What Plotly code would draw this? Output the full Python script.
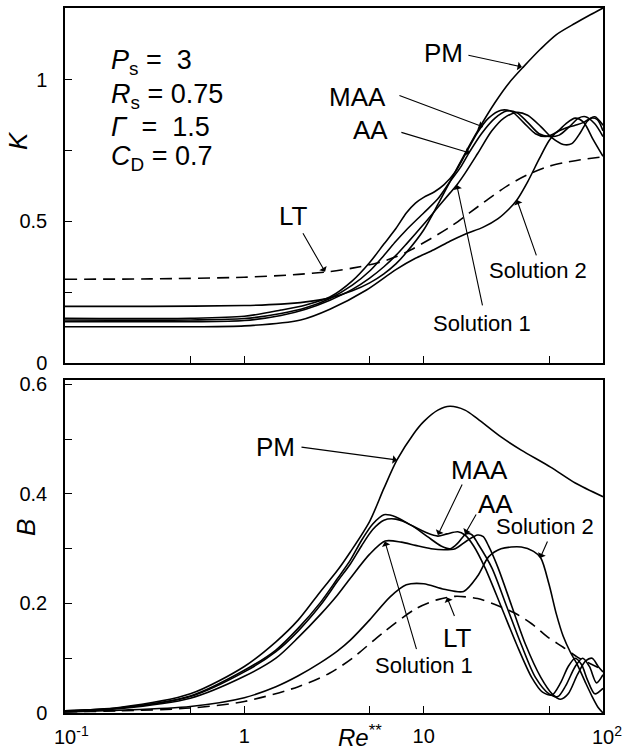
import math
import plotly.graph_objects as go

# ---------------- data ----------------
# top panel: K versus Re**
pm_k_re = [0.1, 0.3, 1, 1.6, 2.2, 3, 4, 5, 6, 7, 8, 10, 12, 14, 17, 20, 25, 30, 36, 45, 55, 70, 85, 100]
pm_k = [0.200, 0.200, 0.203, 0.208, 0.216, 0.230, 0.255, 0.283, 0.315, 0.350, 0.39, 0.47, 0.56, 0.64, 0.74,
        0.82, 0.92, 0.99, 1.046, 1.11, 1.16, 1.20, 1.23, 1.254]

maa_k_re = [0.1, 0.5, 1, 1.6, 2.2, 3, 4, 5, 6, 7, 8, 9, 10, 11.5, 13, 15, 17, 20, 23, 27, 31, 36, 42, 48, 55,
            62, 70, 78, 88, 100]
maa_k = [0.158, 0.158, 0.165, 0.187, 0.205, 0.233, 0.29, 0.355, 0.42, 0.475, 0.53, 0.565, 0.585, 0.605, 0.63,
         0.675, 0.735, 0.815, 0.865, 0.893, 0.888, 0.85, 0.81, 0.80, 0.815, 0.845, 0.865, 0.85, 0.79, 0.73]

aa_k_re = [0.1, 0.5, 1, 1.6, 2.2, 3, 4, 5, 6, 7, 8, 10, 12, 14, 16, 18, 21, 25, 29, 33, 38, 44, 50, 57, 65,
           73, 80, 90, 100]
aa_k = [0.152, 0.152, 0.157, 0.175, 0.195, 0.228, 0.275, 0.325, 0.38, 0.43, 0.47, 0.53, 0.58, 0.64, 0.69,
        0.745, 0.81, 0.865, 0.89, 0.885, 0.85, 0.81, 0.80, 0.805, 0.835, 0.865, 0.87, 0.845, 0.80]

sol1_k_re = [0.1, 0.5, 1, 1.6, 2.2, 3, 4, 5, 6, 7, 8, 10, 12, 14, 15.3, 17, 20, 24, 28, 33, 38, 45, 52, 60,
             67, 75, 82, 90, 100]
sol1_k = [0.146, 0.146, 0.150, 0.168, 0.19, 0.222, 0.26, 0.30, 0.34, 0.38, 0.42, 0.49, 0.55, 0.60, 0.629,
          0.67, 0.74, 0.82, 0.865, 0.885, 0.875, 0.835, 0.795, 0.772, 0.775, 0.815, 0.855, 0.87, 0.84]

sol2_k_re = [0.1, 0.5, 1, 2.06, 3, 4.8, 7, 9, 11.4, 14, 17, 21.5, 26, 30, 33.1, 38, 44, 50, 55, 62, 70, 78,
             86, 93, 100]
sol2_k = [0.128, 0.128, 0.131, 0.152, 0.19, 0.258, 0.33, 0.37, 0.40, 0.43, 0.455, 0.48, 0.51, 0.545, 0.576,
          0.64, 0.72, 0.785, 0.815, 0.83, 0.84, 0.85, 0.865, 0.86, 0.82]

lt_k_re = [0.1, 0.3, 1, 2, 3, 4, 5.5, 7, 8.5, 11, 14, 18, 23, 30, 38, 50, 60, 75, 100]
lt_k = [0.296, 0.297, 0.303, 0.313, 0.323, 0.335, 0.353, 0.375, 0.40, 0.44, 0.48, 0.53, 0.58, 0.63, 0.665,
        0.695, 0.707, 0.718, 0.728]

# bottom panel: B versus Re**
pm_b_re = [0.1, 0.2, 0.5, 1, 1.5, 2, 2.66, 3.3, 3.9, 5, 6, 7.1, 8.8, 10, 12, 14, 17, 20, 27, 35, 51, 70, 100]
pm_b = [0.004, 0.01, 0.035, 0.085, 0.13, 0.17, 0.222, 0.26, 0.294, 0.35, 0.41, 0.462, 0.51, 0.532, 0.553,
        0.56, 0.553, 0.537, 0.504, 0.48, 0.449, 0.42, 0.395]

maa_b_re = [0.1, 0.2, 0.5, 1, 1.5, 2, 2.66, 3.3, 3.9, 4.5, 5.2, 6, 7, 8.5, 10.4, 12, 13.5, 15.5, 17, 19, 22,
            27, 33, 40, 46, 52, 58, 64, 70, 76, 82, 90, 100]
maa_b = [0.004, 0.009, 0.031, 0.078, 0.115, 0.155, 0.202, 0.245, 0.279, 0.315, 0.345, 0.362, 0.358, 0.343,
         0.329, 0.323, 0.327, 0.331, 0.325, 0.305, 0.265, 0.195, 0.125, 0.065, 0.038, 0.033, 0.055, 0.085,
         0.10, 0.088, 0.06, 0.035, 0.045]

aa_b_re = [0.1, 0.2, 0.5, 1, 1.5, 2, 2.66, 3.3, 3.9, 4.5, 5.2, 6, 7, 8.5, 10.5, 12.5, 14.1, 15.5, 17.2, 18.5,
           20, 24, 29, 35, 42, 50, 56, 62, 70, 77, 84, 92, 100]
aa_b = [0.004, 0.009, 0.030, 0.075, 0.112, 0.15, 0.197, 0.24, 0.272, 0.305, 0.335, 0.352, 0.354, 0.343, 0.322,
        0.305, 0.300, 0.31, 0.327, 0.326, 0.31, 0.265, 0.195, 0.125, 0.065, 0.035, 0.03, 0.05, 0.085, 0.10,
        0.085, 0.055, 0.07]

sol1_b_re = [0.1, 0.2, 0.5, 1, 1.5, 2, 2.66, 3.3, 3.9, 5, 6.1, 7.5, 9, 11, 13, 15, 17.5, 20, 21.5, 23, 26, 31,
             37, 45, 52, 58, 64, 72, 80, 87, 94, 100]
sol1_b = [0.003, 0.008, 0.027, 0.067, 0.10, 0.138, 0.18, 0.215, 0.246, 0.29, 0.314, 0.312, 0.306, 0.30, 0.298,
          0.30, 0.315, 0.325, 0.322, 0.305, 0.265, 0.195, 0.125, 0.065, 0.035, 0.025, 0.035, 0.07, 0.095, 0.10,
          0.085, 0.075]

sol2_b_re = [0.1, 0.2, 0.5, 1, 1.5, 2, 2.66, 3.3, 3.9, 5, 6.5, 8, 10, 13, 16.7, 20, 23, 27, 35, 41, 45, 50, 55,
             60, 66, 72, 80, 87, 94, 100]
sol2_b = [0.002, 0.005, 0.012, 0.028, 0.048, 0.068, 0.092, 0.113, 0.133, 0.17, 0.212, 0.234, 0.236, 0.226,
          0.222, 0.25, 0.285, 0.30, 0.303, 0.295, 0.283, 0.235, 0.18, 0.14, 0.11, 0.088, 0.055, 0.03, 0.01, 0.0]

lt_b_re = [0.1, 0.2, 0.5, 1, 2, 3, 4, 6, 9, 12, 15, 20, 25, 32, 40, 49, 60, 72, 85, 100]
lt_b = [0.002, 0.004, 0.009, 0.021, 0.048, 0.073, 0.10, 0.148, 0.19, 0.207, 0.213, 0.209, 0.198, 0.183, 0.163,
        0.139, 0.12, 0.102, 0.09, 0.079]

x_tickvals = [0.1, 0.5, 1, 5, 10, 50, 100]
x_ticktext = ["", "", "1", "", "10", "", ""]          # 10^-1 and 10^2 are placed as annotations below
x_edge_labels = ["10<sup>-1</sup>", "10<sup>2</sup>"]
k_tickvals = [0, 0.25, 0.5, 0.75, 1.0]
k_ticktext = ["0", "", "0.5", "", "1"]
b_tickvals = [0, 0.1, 0.2, 0.3, 0.4, 0.5, 0.6]
b_ticktext = ["0", "", "0.2", "", "0.4", "", "0.6"]

# ---------------- figure ----------------
FONT = "Liberation Sans"
W, H = 629, 756
ML, MR, MT, MB = 65, 26, 8, 43

fig = go.Figure()

solid = dict(color="black", width=1.6, shape="spline", smoothing=0.8)
dashed = dict(color="black", width=1.6, shape="spline", smoothing=0.8, dash="12px,7px")

top = [(pm_k_re, pm_k, "PM"), (maa_k_re, maa_k, "MAA"), (aa_k_re, aa_k, "AA"),
       (sol1_k_re, sol1_k, "Solution 1"), (sol2_k_re, sol2_k, "Solution 2")]
for xs, ys, nm in top:
    fig.add_trace(go.Scatter(x=xs, y=ys, mode="lines", line=solid, name=nm, xaxis="x", yaxis="y"))
fig.add_trace(go.Scatter(x=lt_k_re, y=lt_k, mode="lines", line=dashed, name="LT", xaxis="x", yaxis="y"))

bot = [(pm_b_re, pm_b, "PM"), (maa_b_re, maa_b, "MAA"), (aa_b_re, aa_b, "AA"),
       (sol1_b_re, sol1_b, "Solution 1"), (sol2_b_re, sol2_b, "Solution 2")]
for xs, ys, nm in bot:
    fig.add_trace(go.Scatter(x=xs, y=ys, mode="lines", line=solid, name=nm, xaxis="x2", yaxis="y2"))
fig.add_trace(go.Scatter(x=lt_b_re, y=lt_b, mode="lines", line=dashed, name="LT", xaxis="x2", yaxis="y2"))

plot_h = H - MT - MB
top_dom = [(713 - 363) / plot_h, 1.0]
bot_dom = [0.0, (713 - 380) / plot_h]

axis_common = dict(showline=True, linecolor="black", linewidth=1.5, mirror=True, ticks="inside",
                   ticklen=7, tickwidth=1.2, tickcolor="black", showgrid=False, zeroline=False,
                   automargin=False, tickfont=dict(family=FONT, size=20, color="black"))

fig.update_layout(
    template="none",
    width=W, height=H, margin=dict(l=ML, r=MR, t=MT, b=MB),
    paper_bgcolor="white", plot_bgcolor="white", showlegend=False,
    font=dict(family=FONT, color="black"),
    xaxis=dict(type="log", range=[-1, 2], anchor="y", tickvals=x_tickvals, ticktext=x_ticktext,
               showticklabels=False, **axis_common),
    yaxis=dict(domain=top_dom, range=[0, 1.254], anchor="x", tickvals=k_tickvals, ticktext=k_ticktext,
               ticklabelstandoff=12, **axis_common),
    xaxis2=dict(type="log", range=[-1, 2], anchor="y2", tickvals=x_tickvals, ticktext=x_ticktext,
                ticklabelstandoff=4, **axis_common),
    yaxis2=dict(domain=bot_dom, range=[0, 0.608], anchor="x2", tickvals=b_tickvals, ticktext=b_ticktext,
                ticklabelstandoff=12, **axis_common),
)

ann = []


def px_paper(px, py):
    return (px - ML) / (W - ML - MR), (H - MB - py) / plot_h


def text_at(px, py, txt, size, xanchor="center", angle=0):
    xp, yp = px_paper(px, py)
    ann.append(dict(x=xp, y=yp, xref="paper", yref="paper", text=txt, showarrow=False,
                    xanchor=xanchor, yanchor="middle", textangle=angle, borderpad=0,
                    font=dict(family=FONT, size=size, color="black")))


def arrow(axis, re, val, dx, dy):
    xr, yr = ("x", "y") if axis == 1 else ("x2", "y2")
    ann.append(dict(x=math.log10(re), y=val, xref=xr, yref=yr, text="", showarrow=True,
                    ax=dx, ay=dy, axref="pixel", ayref="pixel", arrowhead=1, arrowsize=1.3,
                    arrowwidth=1.1, arrowcolor="black"))


# x edge tick labels (kept inside the page)
text_at(53, 735, x_edge_labels[0], 20, "left")
text_at(591, 735, x_edge_labels[1], 20, "left")

# parameter block
text_at(110, 62, "<i>P</i><sub>s</sub> =  3", 27, "left")
text_at(110, 96, "<i>R</i><sub>s</sub> = 0.75", 27, "left")
text_at(110, 127, "<i>Γ</i>  =  1.5", 27, "left")
text_at(110, 158, "<i>C</i><sub>D</sub> = 0.7", 27, "left")

# axis titles
text_at(18, 141, "<i>K</i>", 26, angle=-90)
text_at(26, 528, "<i>B</i>", 26, angle=-90)
text_at(360, 736, "<i>Re</i><sup>**</sup>", 24)

# top-panel labels
text_at(443, 53, "PM", 26)
arrow(1, 35.3, 1.046, -55, -12)
text_at(357, 97, "MAA", 26)
arrow(1, 21.4, 0.834, -85, -32)
text_at(370, 130, "AA", 26)
arrow(1, 18.1, 0.742, -70, -21)
text_at(293, 216, "LT", 26)
arrow(1, 2.82, 0.322, -23, -40)
text_at(482, 323, "Solution 1", 22)
arrow(1, 15.3, 0.629, 26, 122)
text_at(538, 270, "Solution 2", 22)
arrow(1, 33.1, 0.576, 20, 57)

# bottom-panel labels
text_at(275, 447, "PM", 26)
arrow(2, 7.1, 0.462, -97, -13)
text_at(479, 470, "MAA", 26)
arrow(2, 12.0, 0.325, 25, -52)
text_at(495, 504, "AA", 26)
arrow(2, 17.0, 0.327, 12, -21)
text_at(545, 526, "Solution 2", 22)
arrow(2, 44.6, 0.283, 8, -18)
text_at(457, 638, "LT", 26)
arrow(2, 13.5, 0.211, 8, 20)
text_at(424, 665, "Solution 1", 22)
arrow(2, 6.08, 0.313, 32, 109)

fig.update_layout(annotations=ann)
# remove the browser's default 8px page margin so the figure sits at the window's corner
fig.write_html("out.html", config={"displayModeBar": False},
               post_script="document.body.style.margin='0';document.body.style.overflow='hidden';")
